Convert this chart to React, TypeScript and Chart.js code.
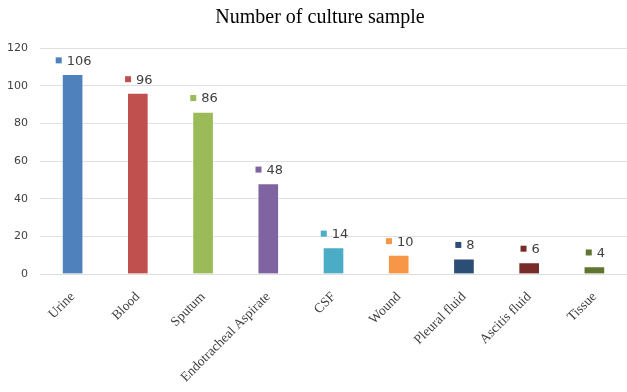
import React, { useEffect, useRef } from "react";
import { Chart, registerables } from "chart.js";

Chart.register(...registerables);

const categories = [
  "Urine",
  "Blood",
  "Sputum",
  "Endotracheal Aspirate",
  "CSF",
  "Wound",
  "Pleural fluid",
  "Ascitis fluid",
  "Tissue",
];
const sampleCounts = [106, 96, 86, 48, 14, 10, 8, 6, 4];
const barColors = [
  "#4F81BD",
  "#C0504D",
  "#9BBB59",
  "#8064A2",
  "#4BACC6",
  "#F79646",
  "#2C4D75",
  "#772C2A",
  "#5F7530",
];
const yTicks = [0, 20, 40, 60, 80, 100, 120];
const chartTitle = "Number of culture sample";

const labelPlugin = {
  id: "valueLabels",
  afterDatasetsDraw(chart: any) {
    const ctx = chart.ctx;
    const meta = chart.getDatasetMeta(0);
    ctx.save();
    ctx.font = "13px 'DejaVu Sans'";
    ctx.textBaseline = "middle";
    ctx.textAlign = "left";
    meta.data.forEach((bar: any, i: number) => {
      const text = String(sampleCounts[i]);
      const tw = ctx.measureText(text).width;
      const sq = 6;
      const gap = 5;
      const total = sq + gap + tw;
      const x0 = bar.x - total / 2 + 1;
      const yc = bar.y - 14;
      ctx.fillStyle = barColors[i];
      ctx.fillRect(x0, yc - sq / 2, sq, sq);
      ctx.fillStyle = "#404040";
      ctx.fillText(text, x0 + sq + gap, yc + 1);
    });
    ctx.font = "20px 'Liberation Serif'";
    ctx.textAlign = "center";
    ctx.fillStyle = "#000000";
    ctx.fillText(chartTitle, 320, 18);
    ctx.restore();
  },
};

export default function App() {
  const ref = useRef<HTMLCanvasElement | null>(null);
  useEffect(() => {
    if (!ref.current) return;
    const chart = new Chart(ref.current, {
      type: "bar",
      data: {
        labels: categories,
        datasets: [
          {
            data: sampleCounts,
            backgroundColor: barColors,
            borderColor: "rgba(255,255,255,0.35)",
            borderWidth: 1,
            barThickness: 21,
          },
        ],
      },
      options: {
        animation: false,
        responsive: true,
        maintainAspectRatio: false,
        layout: { padding: { left: 0, right: 0, top: 48, bottom: 0 } },
        plugins: {
          legend: { display: false },
          title: { display: false },
          tooltip: { enabled: false },
        },
        scales: {
          x: {
            grid: { display: false },
            border: { display: true, color: "#dedede" },
            ticks: {
              minRotation: 45,
              maxRotation: 45,
              autoSkip: false,
              padding: 7,
              color: "#404040",
              font: { family: "'Liberation Serif'", size: 13.5 },
            },
            afterFit(scale: any) {
              scale.height = 118;
            },
          },
          y: {
            min: 0,
            max: 120,
            afterBuildTicks(scale: any) {
              scale.ticks = yTicks.map((v) => ({ value: v }));
            },
            grid: { color: "#e0e0e0", drawTicks: false },
            border: { display: false },
            ticks: {
              padding: 12,
              color: "#404040",
              font: { family: "'DejaVu Sans'", size: 11 },
            },
            afterFit(scale: any) {
              scale.width = 40;
            },
          },
        },
      },
      plugins: [labelPlugin],
    });
    return () => chart.destroy();
  }, []);
  return (
    <div
      style={{
        position: "fixed",
        left: 0,
        top: 0,
        width: 627,
        height: 392,
        background: "#ffffff",
      }}
    >
      <canvas ref={ref} />
    </div>
  );
}
